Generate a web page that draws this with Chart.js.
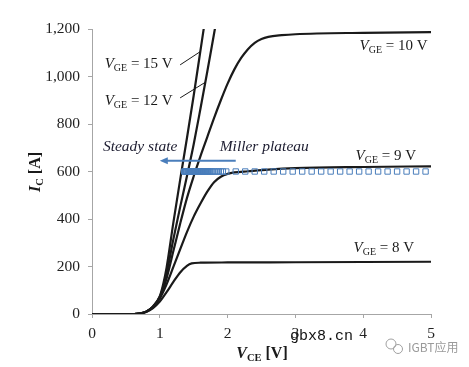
<!DOCTYPE html>
<html>
<head>
<meta charset="utf-8">
<script src="https://cdn.jsdelivr.net/npm/chart.js@4.4.0/dist/chart.umd.min.js"></script>
<style>
html, body { margin: 0; padding: 0; background: #fff; }
</style>
</head>
<body>
<canvas id="chartIc" width="469" height="367"></canvas>
<script>
// output curves I_C(V_CE)
var vce8 = [0, 0.62, 0.7, 0.8, 0.9, 1.0, 1.1, 1.2, 1.3, 1.4, 1.47, 1.6, 2, 3, 4, 5];
var ic8  = [0, 0, 2, 9, 25, 52, 92, 135, 175, 203, 213, 216, 217, 218, 219, 220];

var vce9 = [0, 0.62, 0.7, 0.8, 0.9, 1.0, 1.1, 1.2, 1.3, 1.4, 1.5, 1.6, 1.7, 1.8, 1.9, 2.0, 2.1, 2.3, 2.6, 3, 4, 5];
var ic9  = [0, 0, 2, 10, 29, 65, 125, 198, 272, 345, 410, 465, 515, 555, 578, 590, 596, 601, 608, 614, 619, 622];

var vce10 = [0, 0.62, 0.7, 0.8, 0.9, 1.0, 1.05, 1.1, 1.2, 1.3, 1.4, 1.5, 1.6, 1.7, 1.8, 1.9, 2.0, 2.1, 2.2, 2.3, 2.4, 2.5, 2.6, 2.8, 3, 4, 5];
var ic10  = [0, 0, 2, 10, 30, 70, 105, 150, 265, 380, 488, 580, 665, 745, 825, 900, 970, 1030, 1078, 1115, 1142, 1158, 1167, 1174, 1178, 1184, 1187];

var vce12 = [0, 0.62, 0.7, 0.8, 0.9, 1.0, 1.05, 1.1, 1.2, 1.3, 1.4, 1.5, 1.6, 1.7, 1.8, 1.9];
var ic12  = [0, 0, 2, 10, 31, 72, 115, 170, 315, 450, 580, 715, 865, 1020, 1180, 1340];

var vce15 = [0, 0.62, 0.7, 0.8, 0.9, 1.0, 1.05, 1.1, 1.2, 1.3, 1.4, 1.5, 1.6, 1.7];
var ic15  = [0, 0, 2, 10, 32, 75, 125, 195, 385, 565, 740, 920, 1110, 1300];

// Miller plateau trajectory (square markers)
var millerV = [4.92, 4.78, 4.64, 4.50, 4.36, 4.22, 4.08, 3.94, 3.80, 3.66, 3.52, 3.38, 3.24, 3.10,
  2.96, 2.82, 2.68, 2.54, 2.40, 2.26, 2.12, 1.98, 1.93, 1.90, 1.87, 1.84, 1.81, 1.78, 1.76, 1.74,
  1.72, 1.71, 1.70, 1.69, 1.68, 1.67, 1.66, 1.65, 1.64, 1.63, 1.62, 1.61, 1.60, 1.59, 1.58, 1.57,
  1.56, 1.55, 1.54, 1.53, 1.52, 1.51, 1.50, 1.49, 1.48, 1.47, 1.46, 1.45, 1.44, 1.43, 1.42, 1.41,
  1.40, 1.39, 1.38, 1.37, 1.36];
var millerI = 600;

var xTicks = [0, 1, 2, 3, 4, 5];
var yTicks = [0, 200, 400, 600, 800, 1000, 1200];

var serif = "'Liberation Serif', 'Times New Roman', serif";
var blue = '#4a7ebb';
var ink = '#1a1a1a';

function pts(xs, ys) {
  return xs.map(function (v, i) { return { x: v, y: ys[i] }; });
}

function curve(xs, ys) {
  return {
    data: pts(xs, ys),
    borderColor: ink,
    borderWidth: 2.2,
    pointRadius: 0,
    cubicInterpolationMode: 'monotone',
    fill: false,
    order: 2
  };
}

// draws text made of pieces (main / subscript / rest)
function drawRich(ctx, parts, x, y, align) {
  var total = 0;
  parts.forEach(function (p) { ctx.font = p.font; p.w = ctx.measureText(p.t).width; total += p.w; });
  var cx = align === 'right' ? x - total : (align === 'center' ? x - total / 2 : x);
  ctx.textAlign = 'left';
  ctx.textBaseline = 'alphabetic';
  parts.forEach(function (p) {
    ctx.font = p.font;
    ctx.fillText(p.t, cx, y + (p.dy || 0));
    cx += p.w;
  });
}

function vgeLabel(num) {
  return [
    { t: 'V', font: 'italic 15px ' + serif },
    { t: 'GE', font: '10px ' + serif, dy: 3 },
    { t: ' = ' + num + ' V', font: '15px ' + serif }
  ];
}

// annotations in data units
var vgeLabels = [
  { num: 15, x: 1.19, y: 1035, align: 'right' },
  { num: 12, x: 1.19, y: 880, align: 'right' },
  { num: 10, x: 4.95, y: 1112, align: 'right' },
  { num: 9, x: 4.78, y: 650, align: 'right' },
  { num: 8, x: 4.75, y: 262, align: 'right' }
];
var leaders = [
  [1.30, 1049, 1.593, 1104],
  [1.30, 910, 1.667, 975]
];
var arrow = [2.12, 645, 1.0, 645];

var annotate = {
  id: 'annotate',
  afterDatasetsDraw: function (chart) {
    var ctx = chart.ctx;
    var xs = chart.scales.x, ys = chart.scales.y;
    ctx.save();

    // arrow
    var x1 = xs.getPixelForValue(arrow[0]), y1 = ys.getPixelForValue(arrow[1]);
    var x2 = xs.getPixelForValue(arrow[2]), y2 = ys.getPixelForValue(arrow[3]);
    ctx.strokeStyle = blue;
    ctx.fillStyle = blue;
    ctx.lineWidth = 2;
    ctx.beginPath();
    ctx.moveTo(x1, y1);
    ctx.lineTo(x2 + 6, y2);
    ctx.stroke();
    ctx.beginPath();
    ctx.moveTo(x2, y2);
    ctx.lineTo(x2 + 8, y2 - 3.5);
    ctx.lineTo(x2 + 8, y2 + 3.5);
    ctx.closePath();
    ctx.fill();

    // leader lines
    ctx.strokeStyle = ink;
    ctx.lineWidth = 1;
    leaders.forEach(function (l) {
      ctx.beginPath();
      ctx.moveTo(xs.getPixelForValue(l[0]), ys.getPixelForValue(l[1]));
      ctx.lineTo(xs.getPixelForValue(l[2]), ys.getPixelForValue(l[3]));
      ctx.stroke();
    });

    // V_GE labels
    ctx.fillStyle = ink;
    vgeLabels.forEach(function (l) {
      drawRich(ctx, vgeLabel(l.num), xs.getPixelForValue(l.x), ys.getPixelForValue(l.y), l.align);
    });

    // phase labels
    ctx.fillStyle = '#1c1c30';
    drawRich(ctx, [{ t: 'Steady state', font: 'italic 15.5px ' + serif }], xs.getPixelForValue(0.71), ys.getPixelForValue(685), 'center');
    drawRich(ctx, [{ t: 'Miller plateau', font: 'italic 15.5px ' + serif }], xs.getPixelForValue(2.54), ys.getPixelForValue(685), 'center');

    // axis titles
    ctx.fillStyle = ink;
    drawRich(ctx, [
      { t: 'V', font: 'italic bold 16px ' + serif },
      { t: 'CE', font: 'bold 10.5px ' + serif, dy: 3 },
      { t: ' [V]', font: 'bold 16px ' + serif }
    ], 262, 358, 'center');
    ctx.save();
    ctx.translate(40, 172);
    ctx.rotate(-Math.PI / 2);
    drawRich(ctx, [
      { t: 'I', font: 'italic bold 16px ' + serif },
      { t: 'C', font: 'bold 10.5px ' + serif, dy: 3 },
      { t: ' [A]', font: 'bold 16px ' + serif }
    ], 0, 0, 'center');
    ctx.restore();

    // watermark
    ctx.fillStyle = '#111';
    ctx.font = '15px "Liberation Mono", monospace';
    ctx.textAlign = 'left';
    ctx.textBaseline = 'middle';
    ctx.fillText('gbx8.cn', 290, 336);
    ctx.strokeStyle = '#a0a0a0';
    ctx.lineWidth = 1;
    ctx.beginPath();
    ctx.arc(391, 344, 5, 0, Math.PI * 2);
    ctx.stroke();
    ctx.beginPath();
    ctx.arc(398, 349, 4.5, 0, Math.PI * 2);
    ctx.stroke();
    ctx.fillStyle = '#9a9a9a';
    ctx.font = '12px "Noto Sans CJK SC", "Noto Sans", sans-serif';
    ctx.fillText('IGBT应用', 408, 347);

    ctx.restore();
  }
};

var datasets = [
  {
    data: millerV.map(function (v) { return { x: v, y: millerI }; }),
    showLine: false,
    pointStyle: 'rect',
    pointRadius: 3.8,
    pointBorderWidth: 1,
    pointBorderColor: blue,
    pointBackgroundColor: 'rgba(255,255,255,0)',
    borderColor: blue,
    order: 1
  },
  curve(vce15, ic15),
  curve(vce12, ic12),
  curve(vce10, ic10),
  curve(vce9, ic9),
  curve(vce8, ic8)
];

var config = {
  type: 'line',
  data: { datasets: datasets },
  options: {
    responsive: false,
    animation: false,
    events: [],
    layout: { padding: { top: 29, right: 38, left: 0, bottom: 0 } },
    plugins: {
      legend: { display: false },
      tooltip: { enabled: false }
    },
    scales: {
      x: {
        type: 'linear',
        min: 0,
        max: 5,
        afterBuildTicks: function (s) { s.ticks = xTicks.map(function (v) { return { value: v }; }); },
        afterFit: function (s) { s.height = 53; },
        ticks: {
          color: '#222',
          font: { family: serif, size: 15.5 },
          padding: 7,
          maxRotation: 0
        },
        grid: { drawOnChartArea: false, tickLength: 4, color: '#a6a6a6' },
        border: { color: '#a6a6a6', width: 1 }
      },
      y: {
        type: 'linear',
        min: 0,
        max: 1200,
        afterBuildTicks: function (s) { s.ticks = yTicks.map(function (v) { return { value: v }; }); },
        afterFit: function (s) { s.width = 92; },
        ticks: {
          color: '#222',
          font: { family: serif, size: 15.5 },
          padding: 8,
          callback: function (v) { return v.toLocaleString('en-US'); }
        },
        grid: { drawOnChartArea: false, tickLength: 4, color: '#a6a6a6' },
        border: { color: '#a6a6a6', width: 1 }
      }
    }
  },
  plugins: [annotate]
};

var myChartIc = new Chart(document.querySelector('#chartIc').getContext('2d'), config);
</script>
</body>
</html>
